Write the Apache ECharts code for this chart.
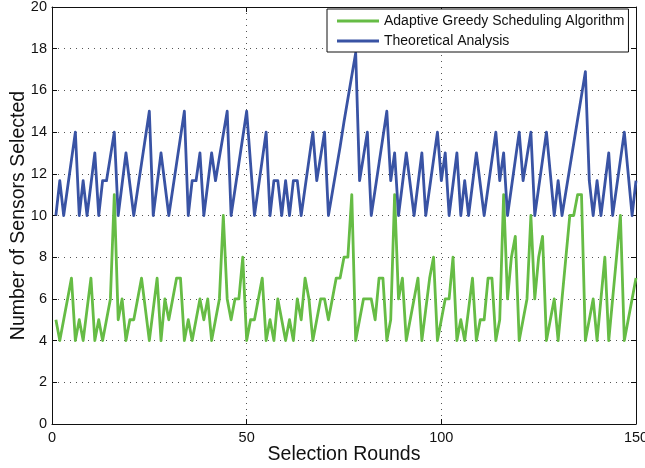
<!DOCTYPE html>
<html>
<head>
<meta charset="utf-8">
<script src="https://cdn.jsdelivr.net/npm/echarts@6/dist/echarts.min.js"></script>
<style>
  html, body { margin: 0; padding: 0; background: #fff; }
  #chart { width: 645px; height: 468px; }
</style>
</head>
<body>
<div id="chart"></div>
<script>
// Sensors selected in each selection round (rounds 1..150)
const seriesNames = ['Adaptive Greedy Scheduling Algorithm', 'Theoretical Analysis'];

const greedyCounts = [
  5, 4, 5, 6, 7, 4, 5, 4, 5.5, 7,
  4, 5, 4, 5, 6, 11, 5, 6, 4, 5,
  5, 6, 7, 5.5, 4, 5.5, 7, 4, 6, 5,
  6, 7, 7, 4, 5, 4, 5, 6, 5, 6,
  4, 5, 6, 10, 6, 5, 6, 6, 8, 4,
  5, 5, 6, 7, 4, 5, 4, 6, 5, 4,
  5, 4, 6, 5, 7, 6, 4, 5, 6, 6,
  5, 6, 7, 7, 8, 8, 11, 4, 5, 6,
  6, 6, 5, 7, 7, 4, 5, 11, 6, 7,
  4, 5, 6, 7, 4, 5.5, 7, 8, 4, 5,
  6, 6, 8, 4, 5, 4, 5.5, 7, 4, 5,
  5, 7, 7, 4, 5, 11, 6, 8, 9, 4,
  5, 6, 10, 6, 8, 9, 4, 5, 6, 4,
  6, 8, 10, 10, 11, 11, 4, 5, 6, 4,
  6, 8, 4, 6, 8, 10, 4, 5, 6, 7
];

const theoreticalCounts = [
  10, 11.67, 10, 11.33, 12.67, 14, 10, 11.67, 10, 11.5,
  13, 10, 11.67, 11.67, 12.83, 14, 10, 11.5, 13, 11.5,
  10, 11.25, 12.5, 13.75, 15, 10, 11.5, 13, 11.5, 10,
  11.25, 12.5, 13.75, 15, 10, 11.67, 11.67, 13, 10, 11.5,
  13, 11.67, 12.8, 13.9, 15, 10, 11.25, 12.5, 13.75, 15,
  12.5, 10, 11.33, 12.67, 14, 10, 11.67, 11.67, 10, 11.67,
  10, 11.67, 11.67, 10, 11.33, 12.67, 14, 11.67, 12.83, 14,
  10, 11.1, 12.2, 13.3, 14.5, 15.6, 16.7, 17.8, 11.67, 12.83,
  14, 10, 11.25, 12.5, 13.75, 15, 11.67, 13, 10, 11.5,
  13, 11.5, 10, 11.5, 13, 10, 11.33, 12.67, 14, 11.67,
  13, 10, 11.5, 13, 10, 11.67, 10, 11.5, 13, 11.5,
  10, 11.33, 12.67, 14, 11.67, 13, 10, 11.33, 12.67, 14,
  11.67, 12.83, 14, 10, 11.33, 12.67, 14, 12, 10, 11.67,
  10, 11.15, 12.3, 13.45, 14.6, 15.75, 16.9, 11.67, 10, 11.67,
  10, 11.5, 13, 10, 11.33, 12.67, 14, 12, 10, 11.67
];

const seriesColors = ['#66bc45', '#3953a4'];

const FONT = "'Liberation Sans', Arial, Helvetica, sans-serif";

// pair each count with its round number (round n is the n-th entry)
const toPoints = arr => arr.map((v, i) => [i + 1, v]);

const dotted = { color: '#555', width: 1, type: [1, 5] };

const frameLine = { show: true, onZero: false, lineStyle: { color: '#111', width: 1 } };
const frameTick = { show: true, inside: true, length: 5, lineStyle: { color: '#111' } };

const chart = echarts.init(document.getElementById('chart'), null, { renderer: 'canvas' });

chart.setOption({
  animation: false,
  backgroundColor: '#fff',
  textStyle: { fontFamily: FONT },
  grid: { left: 52, right: 9, top: 7, bottom: 44, containLabel: false, outerBoundsMode: 'none' },
  legend: {
    orient: 'vertical',
    left: 327,
    top: 9,
    icon: 'rect',
    itemWidth: 42,
    itemHeight: 3,
    itemGap: 6,
    padding: [5, 4, 4, 10],
    backgroundColor: '#fff',
    borderColor: '#111',
    borderWidth: 1,
    textStyle: { fontFamily: FONT, fontSize: 14, color: '#111' },
    data: seriesNames
  },
  xAxis: [
    {
      type: 'value', min: 0, max: 150, interval: 50,
      name: 'Selection Rounds', nameLocation: 'middle', nameGap: 21,
      nameMoveOverlap: false,
      nameTextStyle: { fontFamily: FONT, fontSize: 19.5, color: '#111' },
      axisLine: frameLine,
      axisTick: frameTick,
      axisLabel: { fontFamily: FONT, fontSize: 14.5, color: '#111', margin: 6 },
      splitLine: { show: true, lineStyle: dotted }
    },
    {
      type: 'value', position: 'top', min: 0, max: 150, interval: 50,
      axisLine: frameLine,
      axisTick: frameTick,
      axisLabel: { show: false },
      splitLine: { show: false }
    }
  ],
  yAxis: [
    {
      type: 'value', min: 0, max: 20, interval: 2,
      name: 'Number of Sensors Selected', nameLocation: 'middle', nameGap: 23,
      nameMoveOverlap: false,
      nameTextStyle: { fontFamily: FONT, fontSize: 19.5, color: '#111' },
      axisLine: frameLine,
      axisTick: frameTick,
      axisLabel: { fontFamily: FONT, fontSize: 14.5, color: '#111', margin: 5 },
      splitLine: { show: true, lineStyle: dotted }
    },
    {
      type: 'value', position: 'right', min: 0, max: 20, interval: 2,
      axisLine: frameLine,
      axisTick: frameTick,
      axisLabel: { show: false },
      splitLine: { show: false }
    }
  ],
  series: [
    {
      name: seriesNames[0], type: 'line', xAxisIndex: 0, yAxisIndex: 0,
      data: toPoints(greedyCounts),
      showSymbol: false, symbol: 'none',
      lineStyle: { color: seriesColors[0], width: 2.8, join: 'round' },
      itemStyle: { color: seriesColors[0] }
    },
    {
      name: seriesNames[1], type: 'line', xAxisIndex: 0, yAxisIndex: 0,
      data: toPoints(theoreticalCounts),
      showSymbol: false, symbol: 'none',
      lineStyle: { color: seriesColors[1], width: 2.8, join: 'round' },
      itemStyle: { color: seriesColors[1] }
    }
  ]
});
</script>
</body>
</html>
